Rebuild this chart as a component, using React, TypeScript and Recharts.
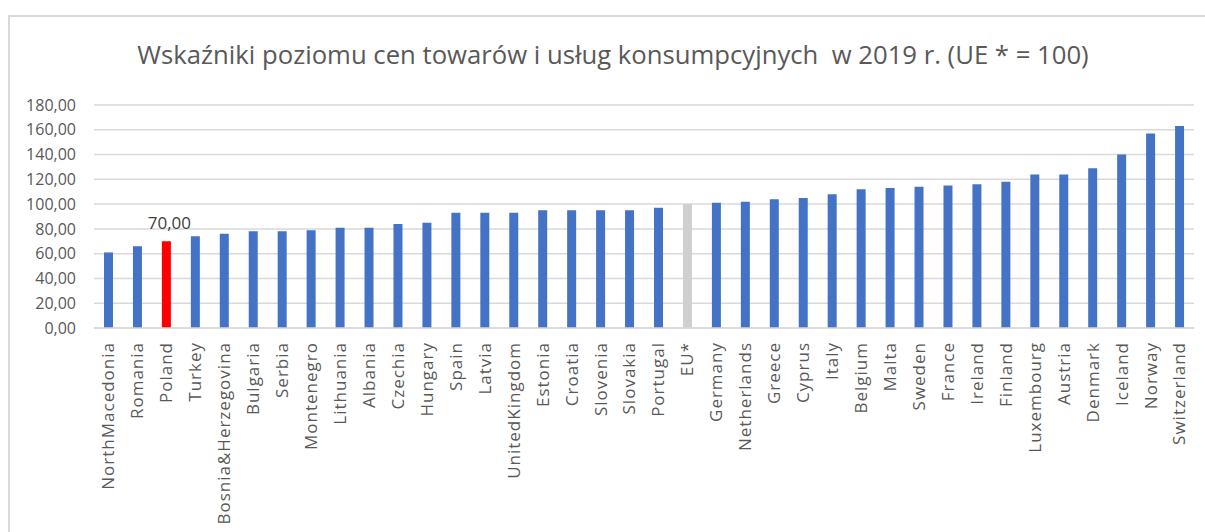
import { BarChart, Bar, XAxis, YAxis, CartesianGrid, Cell, LabelList } from "recharts";

const countries = [
  "NorthMacedonia", "Romania", "Poland", "Turkey", "Bosnia&Herzegovina", "Bulgaria",
  "Serbia", "Montenegro", "Lithuania", "Albania", "Czechia", "Hungary", "Spain",
  "Latvia", "UnitedKingdom", "Estonia", "Croatia", "Slovenia", "Slovakia", "Portugal",
  "EU*", "Germany", "Netherlands", "Greece", "Cyprus", "Italy", "Belgium", "Malta",
  "Sweden", "France", "Ireland", "Finland", "Luxembourg", "Austria", "Denmark",
  "Iceland", "Norway", "Switzerland",
];

const priceIndex = [
  61, 66, 70, 74, 76, 78, 78, 79, 81, 81, 84, 85, 93, 93, 93, 95, 95, 95, 95, 97,
  100, 101, 102, 104, 105, 108, 112, 113, 114, 115, 116, 118, 124, 124, 129, 140,
  157, 163,
];

const yTicks = [0, 20, 40, 60, 80, 100, 120, 140, 160, 180];

const BLUE = "#4472C4";
const RED = "#FF0000";
const GREY = "#D0CECE";
const TEXT = "#595959";
const FONT = "'Open Sans', sans-serif";

const data = countries.map((name, i) => ({ name, value: priceIndex[i] }));

const fmt = (v: number) => v.toFixed(2).replace(".", ",");

const barColor = (name: string) =>
  name === "Poland" ? RED : name === "EU*" ? GREY : BLUE;

const CountryTick = ({ x, y, payload }: any) => (
  <g transform={`translate(${x},${y})`}>
    <text
      transform="rotate(-90)"
      x={-6}
      y={0}
      dy="0.35em"
      textAnchor="end"
      fill={TEXT}
      fontSize={17}
      fontFamily={FONT}
      letterSpacing={1}
    >
      {payload.value}
    </text>
  </g>
);

// only Poland carries a value label in the original
const PolandLabel = ({ x, y, width, value, index }: any) => {
  if (countries[index] !== "Poland") return null;
  return (
    <text
      x={x + width / 2 + 3}
      y={y - 12}
      textAnchor="middle"
      fill="#404040"
      fontSize={17}
      fontFamily={FONT}
    >
      {fmt(value)}
    </text>
  );
};

export default function App() {
  return (
    <div
      style={{
        position: "absolute",
        left: 0,
        top: 0,
        width: 1205,
        height: 532,
        background: "#fff",
        overflow: "hidden",
      }}
    >
      {/* frame, only top and left edges are visible in the crop */}
      <div
        style={{
          position: "absolute",
          left: 8,
          top: 15,
          width: 1205,
          height: 540,
          borderLeft: "2px solid #d9d9d9",
          borderTop: "2px solid #d9d9d9",
        }}
      />
      <div
        style={{
          position: "absolute",
          left: 0,
          top: 37,
          width: 1226,
          textAlign: "center",
          fontFamily: FONT,
          fontSize: 25.7,
          color: TEXT,
          whiteSpace: "pre",
        }}
      >
        {"Wskaźniki poziomu cen towarów i usług konsumpcyjnych  w 2019 r. (UE * = 100)"}
      </div>
      <div style={{ position: "absolute", left: 0, top: 0 }}>
        <BarChart
          width={1205}
          height={532}
          data={data}
          margin={{ top: 105, right: 11, bottom: 44, left: 0 }}
          barCategoryGap={0}
        >
          <CartesianGrid vertical={false} stroke="#d9d9d9" strokeWidth={1.5} />
          <XAxis
            dataKey="name"
            interval={0}
            height={160}
            tick={<CountryTick />}
            tickLine={false}
            axisLine={{ stroke: "#d9d9d9", strokeWidth: 1.5 }}
          />
          <YAxis
            width={94}
            domain={[0, 180]}
            ticks={yTicks}
            tickFormatter={fmt}
            tickLine={false}
            axisLine={false}
            tickMargin={12}
            tick={{ fill: TEXT, fontSize: 16, fontFamily: FONT }}
          />
          <Bar dataKey="value" barSize={9} isAnimationActive={false}>
            {data.map((d) => (
              <Cell key={d.name} fill={barColor(d.name)} />
            ))}
            <LabelList dataKey="value" content={<PolandLabel />} />
          </Bar>
        </BarChart>
      </div>
    </div>
  );
}
